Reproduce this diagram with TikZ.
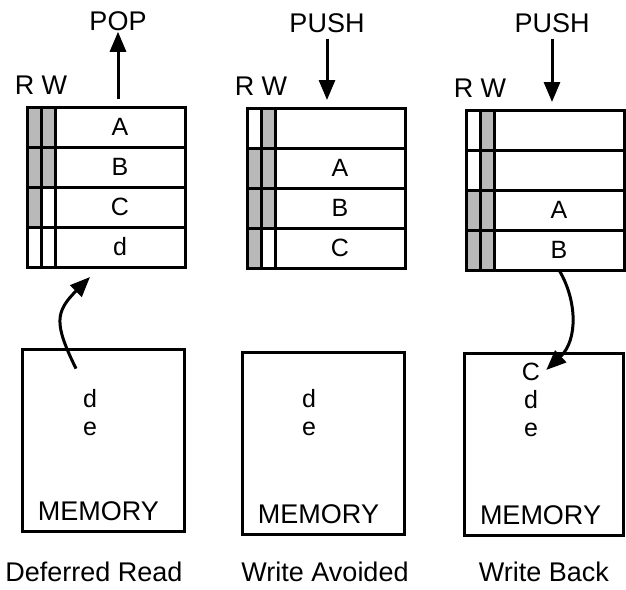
\documentclass[tikz,border=0pt]{standalone}
\usepackage{fontspec}
\setmainfont{Liberation Sans}
\usetikzlibrary{arrows.meta, positioning}
\colorlet{setbit}{gray!55}
\colorlet{clearbit}{white}

\begin{document}
\begin{tikzpicture}[x=1pt, y=-1pt,
      cell/.style={draw, line width=3pt, outer sep=0pt, inner sep=0pt,
                   minimum width=130pt, minimum height=40pt,
                   font=\fontsize{25}{28}\selectfont},
      flag/.style={draw, line width=3pt, outer sep=0pt, inner sep=0pt,
                   minimum width=14pt, minimum height=40pt},
      membox/.style={draw, line width=3pt, minimum width=162pt, minimum height=182pt},
      lbl/.style={font=\fontsize{27}{30}\selectfont, inner sep=1pt},
      memtxt/.style={font=\fontsize{25}{28}\selectfont, align=center, inner sep=1pt},
      arr/.style={-{Triangle[length=20pt, width=16pt]}, line width=3pt}
    ]
    \useasboundingbox (0,0) rectangle (626,589);

    % stacks
    \foreach \i/\rf/\wf/\txt in {1/setbit/setbit/A, 2/setbit/setbit/B, 3/setbit/clearbit/C, 4/clearbit/clearbit/d} {
      \node[cell] (dr\i) at (120, {87+40*\i}) {\txt};
      \node[flag, fill=\wf, anchor=east] (drw\i) at (dr\i.west) {};
      \node[flag, fill=\rf, anchor=east] (drr\i) at (drw\i.west) {};
    }
    \foreach \i/\rf/\wf/\txt in {1/clearbit/setbit/{}, 2/setbit/setbit/A, 3/setbit/setbit/B, 4/setbit/clearbit/C} {
      \node[cell] (wa\i) at (340, {88+40*\i}) {\txt};
      \node[flag, fill=\wf, anchor=east] (waw\i) at (wa\i.west) {};
      \node[flag, fill=\rf, anchor=east] (war\i) at (waw\i.west) {};
    }
    \foreach \i/\rf/\wf/\txt in {1/clearbit/setbit/{}, 2/clearbit/setbit/{}, 3/setbit/setbit/A, 4/setbit/setbit/B} {
      \node[cell] (wb\i) at (559, {90+40*\i}) {\txt};
      \node[flag, fill=\wf, anchor=east] (wbw\i) at (wb\i.west) {};
      \node[flag, fill=\rf, anchor=east] (wbr\i) at (wbw\i.west) {};
    }

    \node[lbl, anchor=south, yshift=11pt] (rw1) at (drr1.north east) {R W};
    \node[lbl, anchor=south, yshift=11pt] (rw2) at (war1.north east) {R W};
    \node[lbl, anchor=south, yshift=11pt] (rw3) at (wbr1.north east) {R W};

    % operations
    \node[lbl] (pop)   at (118, 21) {POP};
    \node[lbl] (push1) at (327, 23) {PUSH};
    \node[lbl] (push2) at (552, 23) {PUSH};
    \draw[arr, shorten <=8pt] (pop |- dr1.north) -- (pop);
    \draw[arr, shorten <=5pt, shorten >=8pt] (push1) -- (push1 |- wa1.north);
    \draw[arr, shorten <=5pt, shorten >=8pt] (push2) -- (push2 |- wb1.north);

    % memory
    \node[membox] (mem1) at (103.5, 440) {};
    \node[membox] (mem2) at (323.5, 443) {};
    \node[membox, minimum width=159pt] (mem3) at (543.5, 444.5) {};
    \node[lbl, above=11pt of mem1.south, xshift=-5pt] {MEMORY};
    \node[lbl, above=11pt of mem2.south, xshift=-5pt] {MEMORY};
    \node[lbl, above=11pt of mem3.south, xshift=-3pt] {MEMORY};
    \node[memtxt] (memdr) at (90, 413) {d\\e};
    \node[memtxt] (memwa) at (309, 413) {d\\e};
    \node[memtxt] (memwb) at (531, 400) {C\\d\\e};

    \draw[arr] ([xshift=-14pt, yshift=20pt]memdr.north) .. controls +(-22,-45) and +(-35,35) .. ([xshift=-30pt, yshift=-10pt]dr4.south);
    \draw[arr] (wb4.south) .. controls +(18,30) and +(32,-30) .. ([xshift=5pt, yshift=-8pt]memwb.north east);

    % captions
    \node[lbl] (cap1) at (94, 572) {Deferred Read};
    \node[lbl] (cap2) at (325, 572) {Write Avoided};
    \node[lbl] (cap3) at (544, 572) {Write Back};
  \end{tikzpicture}
\end{document}
